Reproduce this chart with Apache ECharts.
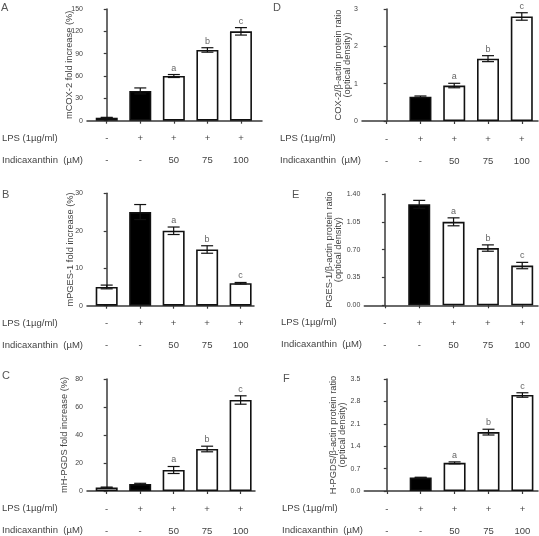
<!DOCTYPE html>
<html><head><meta charset="utf-8">
<script src="https://cdn.jsdelivr.net/npm/echarts@6/dist/echarts.min.js"></script>
<style>html,body{margin:0;padding:0;background:#fff}#c{width:539px;height:536px}</style>
</head><body><div id="c"></div>
<script>
// ---- data ----
const lpsRow = ['-', '+', '+', '+', '+'];
const indRow = ['-', '-', '50', '75', '100'];
const sigLetters = ['', '', 'a', 'b', 'c'];

const aValues = [4, 40, 60, 95, 120];
const aErrors = [0.5, 4, 2, 3, 5];
const bValues = [5, 25, 20, 15, 6];
const bErrors = [0.5, 2, 1, 1, 0.2];
const cValues = [2.5, 5, 15, 30, 65];
const cErrors = [0.3, 0.5, 2.5, 2, 3];
const dValues = [0, 0.65, 0.95, 1.67, 2.8];
const dErrors = [0, 0.02, 0.06, 0.08, 0.1];
const eValues = [0, 1.27, 1.05, 0.72, 0.50];
const eErrors = [0, 0.05, 0.05, 0.04, 0.04];
const fValues = [0, 0.42, 0.88, 1.84, 3.0];
const fErrors = [0, 0.01, 0.03, 0.09, 0.07];

const yNames = {
  A: 'mCOX-2 fold increase (%)',
  B: 'mPGES-1 fold increase (%)',
  C: 'mH-PGDS fold increase (%)',
  D: 'COX-2/β-actin protein ratio\n(optical density)',
  E: 'PGES-1/β-actin protein ratio\n(optical density)',
  F: 'H-PGDS/β-actin protein ratio\n(optical density)'
};
const rowTitles = ['LPS (1µg/ml)', 'Indicaxanthin  (µM)'];

// ---- layout ----
const FONT = 'Liberation Sans';
const TXT = '#444';
const panels = [
  {id:'A', values:aValues, errors:aErrors, yMax:150, yInt:30, dec:0, left:87, top:9, width:175, height:111.7, xMin:-0.588, xMax:4.627, letter:[1,2], rowX:2, gap:13},
  {id:'B', values:bValues, errors:bErrors, yMax:30, yInt:10, dec:0, left:87, top:193.3, width:167, height:112.4, xMin:-0.588, xMax:4.40, letter:[2,189], rowX:2, gap:12},
  {id:'C', values:cValues, errors:cErrors, yMax:80, yInt:20, dec:0, left:87, top:379, width:168, height:112, xMin:-0.588, xMax:4.43, letter:[2,370], rowX:2, gap:18.5},
  {id:'D', values:dValues, errors:dErrors, yMax:3, yInt:1, dec:0, left:362, top:9, width:176, height:112, xMin:-0.73, xMax:4.48, letter:[273,2], rowX:280, gap:10.5},
  {id:'E', values:eValues, errors:eErrors, yMax:1.4, yInt:0.35, dec:2, left:364.3, top:194, width:173.7, height:111.3, xMin:-0.6, xMax:4.46, letter:[292,189], rowX:281, gap:22},
  {id:'F', values:fValues, errors:fErrors, yMax:3.5, yInt:0.7, dec:1, left:364.3, top:379, width:173.7, height:112.3, xMin:-0.663, xMax:4.46, letter:[283,373], rowX:282, gap:18}
];

const grid = [], xAxis = [], yAxis = [], series = [], graphic = [];
const cats = [0, 1, 2, 3, 4];

panels.forEach((p, k) => {
  grid.push({left:p.left, top:p.top, width:p.width, height:p.height});
  xAxis.push({
    type:'value', gridIndex:k, min:p.xMin, max:p.xMax,
    splitLine:{show:false},
    axisLine:{show:true, onZero:false, lineStyle:{color:'#3a3a3a', width:1.5}},
    axisTick:{show:true, customValues:cats, length:3, lineStyle:{color:'#3a3a3a', width:1.2}},
    axisLabel:{
      customValues:cats, margin:7,
      formatter:(v) => '{a|' + lpsRow[Math.round(v)] + '}\n{a|' + indRow[Math.round(v)] + '}',
      rich:{a:{fontFamily:FONT, fontSize:9.5, lineHeight:22, color:TXT}}
    }
  });
  yAxis.push({
    type:'value', gridIndex:k, min:0, max:p.yMax, interval:p.yInt,
    splitLine:{show:false},
    axisLine:{show:true, lineStyle:{color:'#3a3a3a', width:1.5}},
    axisTick:{show:true, length:3, lineStyle:{color:'#3a3a3a', width:1.2}},
    axisLabel:{fontFamily:FONT, fontSize:7, color:TXT, margin:4, formatter:(v) => v.toFixed(p.dec)},
    name:yNames[p.id], nameLocation:'middle', nameGap:p.gap, nameMoveOverlap:false,
    nameTextStyle:{fontFamily:FONT, fontSize:9.3, color:TXT, lineHeight:8.5}
  });
  series.push({
    type:'bar', xAxisIndex:k, yAxisIndex:k, barWidth:22, silent:true,
    data:p.values.map((v, i) => ({value:[i, v], itemStyle:{color: i === 1 ? '#000' : '#fff', borderWidth: v === 0 ? 0 : 1.6}})),
    itemStyle:{borderColor:'#111', borderWidth:1.6}
  });
  const errs = p.errors;
  series.push({
    type:'custom', xAxisIndex:k, yAxisIndex:k, silent:true, z:5,
    data:p.values.map((v, i) => [i, v, errs[i]]),
    renderItem:(params, api) => {
      const x = api.value(0), v = api.value(1), e = api.value(2);
      const lt = sigLetters[params.dataIndex];
      const ch = [];
      const t = api.coord([x, v + e]);
      if (e > 0) {
        const b = api.coord([x, v - e]);
        const hw = 6;
        const ls = {stroke:'#111', lineWidth:1.2};
        ch.push({type:'line', shape:{x1:t[0], y1:t[1], x2:b[0], y2:b[1]}, style:ls});
        ch.push({type:'line', shape:{x1:t[0]-hw, y1:t[1], x2:t[0]+hw, y2:t[1]}, style:ls});
        ch.push({type:'line', shape:{x1:b[0]-hw, y1:b[1], x2:b[0]+hw, y2:b[1]}, style:ls});
      }
      if (lt) {
        ch.push({type:'text', style:{text:lt, x:t[0], y:t[1]-2, align:'center', verticalAlign:'bottom', fill:'#666', font:'9px "' + FONT + '"'}});
      }
      return {type:'group', children:ch};
    }
  });
  graphic.push({type:'text', x:p.letter[0], y:p.letter[1], style:{text:p.id, fontFamily:FONT, fontSize:11, fill:'#555'}});
  const axisY = p.top + p.height;
  rowTitles.forEach((rt, r) => {
    graphic.push({type:'text', x:p.rowX, y:axisY + 17.5 + r * 22, style:{text:rt, fontFamily:FONT, fontSize:9.5, fill:TXT, verticalAlign:'middle'}});
  });
});

const chart = echarts.init(document.getElementById('c'), null, {renderer:'canvas'});
chart.setOption({animation:false, backgroundColor:'#fff', grid, xAxis, yAxis, series, graphic});
</script>
</body></html>
